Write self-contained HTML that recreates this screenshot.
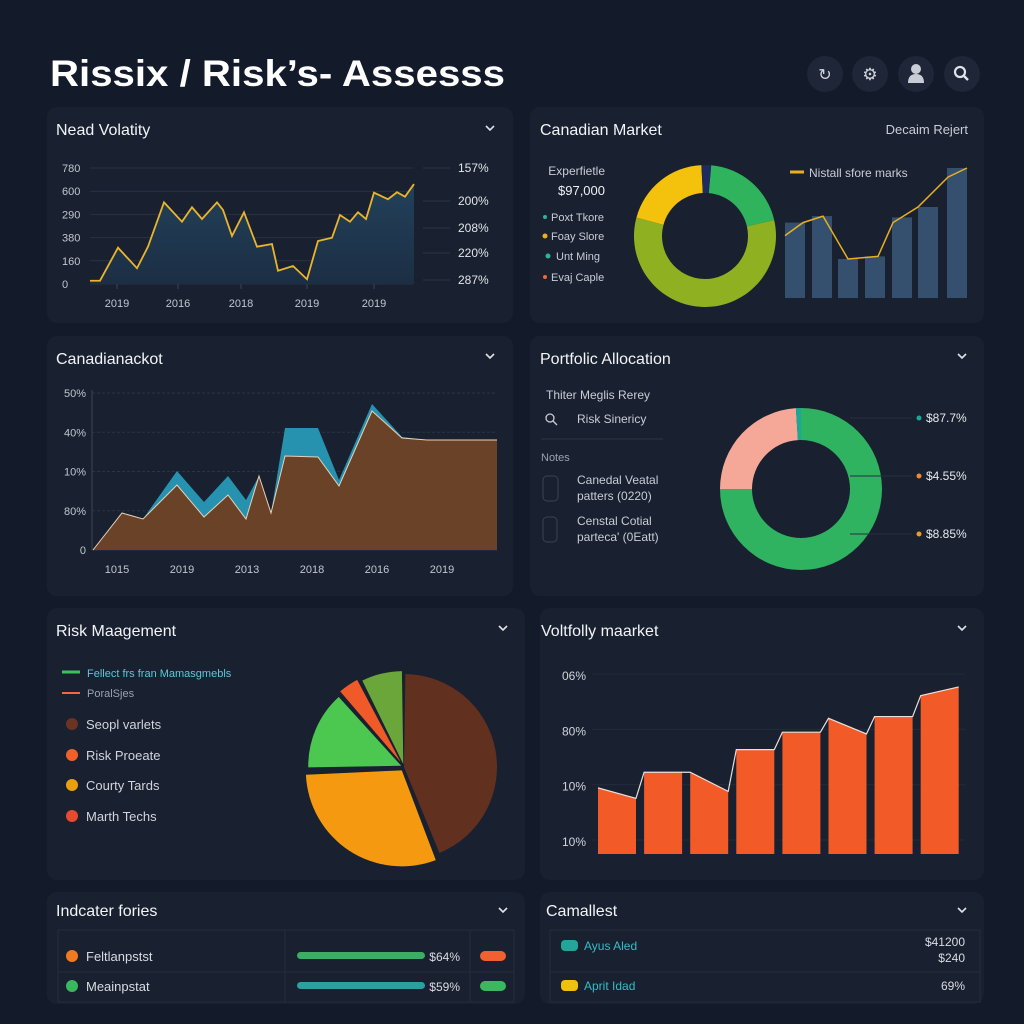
<!DOCTYPE html>
<html><head><meta charset="utf-8">
<style>
html,body{margin:0;padding:0;background:#131a2a;}
svg{display:block;font-family:"Liberation Sans",sans-serif;}
</style></head>
<body>
<svg id="root" width="1024" height="1024" viewBox="0 0 1024 1024" xmlns="http://www.w3.org/2000/svg">
<defs>
<linearGradient id="g1" x1="0" y1="0" x2="0" y2="1"><stop offset="0" stop-color="#22415a"/><stop offset="1" stop-color="#1c2e44"/></linearGradient>
</defs>
<rect x="0" y="0" width="1024" height="1024" fill="#131a2a"/>
<text x="50" y="86" font-size="37" font-weight="bold" fill="#ffffff" textLength="455" lengthAdjust="spacingAndGlyphs">Rissix / Risk’s- Assesss</text>
<g><circle cx="825" cy="74" r="18" fill="#1e2638"/><text x="825" y="80" font-size="16" fill="#d0d4dc" text-anchor="middle">↻</text></g>
<g><circle cx="870" cy="74" r="18" fill="#1e2638"/><text x="870" y="80" font-size="17" fill="#d0d4dc" text-anchor="middle">⚙</text></g>
<g><circle cx="916" cy="74" r="18" fill="#1e2638"/><circle cx="916" cy="69" r="5" fill="#c8ccd4"/><path d="M908 83 Q908 74 916 74 Q924 74 924 83Z" fill="#c8ccd4"/></g>
<g><circle cx="962" cy="74" r="18" fill="#1e2638"/><circle cx="960" cy="72" r="5" fill="none" stroke="#e0e3e8" stroke-width="2.2"/><line x1="964" y1="76" x2="968" y2="80" stroke="#e0e3e8" stroke-width="2.4"/></g>

<!-- panels -->
<g fill="#19202f">
<rect x="47" y="107" width="466" height="216" rx="10"/>
<rect x="530" y="107" width="454" height="216" rx="10"/>
<rect x="47" y="336" width="466" height="260" rx="10"/>
<rect x="530" y="336" width="454" height="260" rx="10"/>
<rect x="47" y="608" width="478" height="272" rx="10"/>
<rect x="540" y="608" width="444" height="272" rx="10"/>
<rect x="47" y="892" width="478" height="112" rx="10"/>
<rect x="540" y="892" width="444" height="112" rx="10"/>
</g>
<g fill="#f2f4f7" font-size="16">
<text x="56" y="135">Nead Volatity</text>
<text x="540" y="135">Canadian Market</text>
<text x="56" y="364">Canadianackot</text>
<text x="540" y="364">Portfolic Allocation</text>
<text x="56" y="636">Risk Maagement</text>
<text x="541" y="636">Voltfolly maarket</text>
<text x="56" y="916">Indcater fories</text>
<text x="546" y="916">Camallest</text>
</g>
<g fill="none" stroke="#e0e3e8" stroke-width="1.6">
<path d="M486 126 l4 4 l4 -4"/>
<path d="M486 354 l4 4 l4 -4"/>
<path d="M958 354 l4 4 l4 -4"/>
<path d="M499 626 l4 4 l4 -4"/>
<path d="M958 626 l4 4 l4 -4"/>
<path d="M499 908 l4 4 l4 -4"/>
<path d="M958 908 l4 4 l4 -4"/>
</g>
<text x="968" y="134" font-size="13" fill="#c8cdd6" text-anchor="end">Decaim Rejert</text>

<g id="c1"></g>
<g id="c2"></g>
<g id="c3"></g>
<g id="c4"></g>
<g id="c5"></g>
<g id="c6"></g>

<!-- canadian market left texts -->
<g font-size="12" fill="#c8cdd6">
<text x="605" y="175" text-anchor="end">Experfietle</text>
<text x="605" y="195" text-anchor="end" font-size="13" fill="#eef0f3">$97,000</text>
<g font-size="11"><circle cx="545" cy="217" r="2" fill="#2ab59a"/><text x="551" y="221">Poxt Tkore</text>
<circle cx="545" cy="236" r="2.5" fill="#e8b020"/><text x="551" y="240">Foay Slore</text>
<circle cx="548" cy="256" r="2.5" fill="#2ab59a"/><text x="556" y="260">Unt Ming</text>
<circle cx="545" cy="277" r="2" fill="#f06a30"/><text x="551" y="281">Evaj Caple</text></g>
<line x1="790" y1="172" x2="804" y2="172" stroke="#e8b020" stroke-width="3"/>
<text x="809" y="177">Nistall sfore marks</text>
</g>

<!-- portfolio left -->
<g font-size="12" fill="#c8cdd6">
<text x="546" y="399">Thiter Meglis Rerey</text>
<g><circle cx="550" cy="418" r="4" fill="none" stroke="#c8cdd6" stroke-width="1.3"/><line x1="553" y1="421" x2="557" y2="425" stroke="#c8cdd6" stroke-width="1.3"/>
<text x="577" y="423">Risk Sinericy</text></g>
<line x1="541" y1="439" x2="663" y2="439" stroke="#2b3447"/>
<text x="541" y="461" font-size="11" fill="#9aa2b0">Notes</text>
<rect x="543" y="476" width="15" height="25" rx="4" fill="none" stroke="#3a4356"/>
<text x="577" y="484">Canedal Veatal</text>
<text x="577" y="500">patters (0220)</text>
<rect x="543" y="517" width="14" height="25" rx="4" fill="none" stroke="#3a4356"/>
<text x="577" y="525">Censtal Cotial</text>
<text x="577" y="541">parteca' (0Eatt)</text>
</g>

<!-- risk legend -->
<g font-size="13" fill="#d0d4dc">
<line x1="62" y1="672" x2="80" y2="672" stroke="#3ec060" stroke-width="3"/>
<text x="87" y="677" font-size="11" fill="#5cc8d8">Fellect frs fran Mamasgmebls</text>
<line x1="62" y1="693" x2="80" y2="693" stroke="#f06a40" stroke-width="2"/>
<text x="87" y="697" font-size="11" fill="#9aa2b0">PoralSjes</text>
<circle cx="72" cy="724" r="6" fill="#6a3322"/><text x="86" y="729">Seopl varlets</text>
<circle cx="72" cy="755" r="6" fill="#f0602a"/><text x="86" y="760">Risk Proeate</text>
<circle cx="72" cy="785" r="6" fill="#e8a010"/><text x="86" y="790">Courty Tards</text>
<circle cx="72" cy="816" r="6" fill="#e84a30"/><text x="86" y="821">Marth Techs</text>
</g>

<!-- indicator table -->
<g>
<rect x="58" y="930" width="456" height="72" fill="none" stroke="#252d3e"/>
<line x1="285" y1="930" x2="285" y2="1002" stroke="#252d3e"/><line x1="470" y1="930" x2="470" y2="1002" stroke="#252d3e"/>
<line x1="58" y1="972" x2="514" y2="972" stroke="#252d3e"/>
<circle cx="72" cy="956" r="6" fill="#f07a20"/>
<text x="86" y="961" font-size="13" fill="#d8dce2">Feltlanpstst</text>
<rect x="297" y="952" width="128" height="7" rx="3.5" fill="#3aae64"/>
<text x="460" y="961" font-size="12" fill="#d8dce2" text-anchor="end">$64%</text>
<rect x="480" y="951" width="26" height="10" rx="5" fill="#f06030"/>
<circle cx="72" cy="986" r="6" fill="#3ab860"/>
<text x="86" y="991" font-size="13" fill="#d8dce2">Meainpstat</text>
<rect x="297" y="982" width="128" height="7" rx="3.5" fill="#2aa0a0"/>
<text x="460" y="991" font-size="12" fill="#d8dce2" text-anchor="end">$59%</text>
<rect x="480" y="981" width="26" height="10" rx="5" fill="#3ab860"/>
</g>
<g>
<rect x="550" y="930" width="430" height="72" fill="none" stroke="#252d3e"/>
<line x1="550" y1="972" x2="980" y2="972" stroke="#252d3e"/>
<rect x="561" y="940" width="17" height="11" rx="4" fill="#22a69a"/>
<text x="584" y="950" font-size="12" fill="#36bcc8">Ayus Aled</text>
<text x="965" y="946" font-size="12" fill="#d8dce2" text-anchor="end">$41200</text>
<text x="965" y="962" font-size="12" fill="#d8dce2" text-anchor="end">$240</text>
<rect x="561" y="980" width="17" height="11" rx="4" fill="#f0c010"/>
<text x="584" y="990" font-size="12" fill="#36bcc8">Aprit Idad</text>
<text x="965" y="990" font-size="12" fill="#d8dce2" text-anchor="end">69%</text>
</g>
</svg>
<script>
// ---- chart 1 data ----
const volT = [0,10,28,47,58,74,92,102,112,127,133,142,154,167,182,188,203,217,228,242,250,260,268,276,284,298,307,315,324];
const volV = [22,22,244,106,251,549,419,516,437,549,498,323,482,251,269,89,121,32,289,311,464,419,482,437,614,570,617,587,672];
const volYTicks = [0,160,380,290,600,780];
const volXLabels = ["2019","2016","2018","2019","2019"];
const volXLabelT = [27,88,151,217,284];
const volRightLabels = ["157%","200%","208%","220%","287%"];
// ---- chart 2 data ----
const mktDonut = [20,57.8,20,2.2];
const mktDonutColors = ["#2fb35c","#8fb020","#f4c20c","#1e2a60"];
const mktBars = [58,63,30,32,62,70,100];
const mktLine = [48,58,63,30,32,58,70,93,100];
// ---- chart 3 data ----
const areaT = [0,29,50,84,111,135,153,166,178,192,225,246,279,309,334,404];
const areaBrown = [0,37,31,65,33,55,31,74,37,94,93,64,139,112,110,110];
const areaTeal = [0,37,31,79,48,74,50,74,37,122,122,70,146,113,110,110];
const areaYLabels = ["0","80%","10%","40%","50%"];
const areaXLabels = ["1015","2019","2013","2018","2016","2019"];
// ---- chart 4 data ----
const allocVals = [75,24,1];
const allocColors = ["#2fb360","#f5a898","#1aa898"];
const allocLabels = ["$87.7%","$4.55%","$8.85%"];
// ---- chart 5 data ----
const riskVals = [44,30.5,14,4,7.5];
const riskColors = ["#62301f","#f59a10","#4cc850","#f05a28","#6aa63a"];
// ---- chart 6 data ----
const vbStart = [38,47,47,60,70,78,79,91];
const vbEnd = [32,47,36,60,70,69,79,96];
const vbYLabels = ["10%","10%","80%","06%"];

const NS="http://www.w3.org/2000/svg";
function mk(parent,tag,attrs){const e=document.createElementNS(NS,tag);for(const k in attrs)e.setAttribute(k,attrs[k]);parent.appendChild(e);return e;}
function arc(cx,cy,r0,r1,a0,a1){const p=(r,a)=>[cx+r*Math.sin(a),cy-r*Math.cos(a)];const L=a1-a0>Math.PI?1:0;
 const [x1,y1]=p(r1,a0),[x2,y2]=p(r1,a1);
 if(r0<=0){return `M${cx} ${cy}L${x1} ${y1}A${r1} ${r1} 0 ${L} 1 ${x2} ${y2}Z`;}
 const [x3,y3]=p(r0,a1),[x4,y4]=p(r0,a0);
 return `M${x1} ${y1}A${r1} ${r1} 0 ${L} 1 ${x2} ${y2}L${x3} ${y3}A${r0} ${r0} 0 ${L} 0 ${x4} ${y4}Z`;}

// chart 1
(function(){const g=document.getElementById('c1');
 const x=t=>90+t, y=v=>284-v*116/780;
 volYTicks.forEach((v,i)=>{const yy=284-i*23.2;
  const l=mk(g,'line',{x1:90,x2:413,y1:yy,y2:yy,stroke:'#283246','stroke-width':1});
  
  const t=mk(g,'text',{x:62,y:yy+4,'font-size':11,fill:'#c0c6d0'});t.textContent=v;
  });
 let d='M'+x(volT[0])+' 284';volT.forEach((t,i)=>d+='L'+x(t)+' '+y(volV[i]));d+='L'+x(volT[volT.length-1])+' 284Z';
 const a=mk(g,'path',{d,fill:'url(#g1)'});
 const ln=mk(g,'polyline',{points:volT.map((t,i)=>x(t)+','+y(volV[i])).join(' '),fill:'none',stroke:'#eab52c','stroke-width':1.8});
 
 volXLabels.forEach((s,i)=>{const t=mk(g,'text',{x:x(volXLabelT[i]),y:307,'font-size':11,fill:'#c0c6d0','text-anchor':'middle'});t.textContent=s;
  
  mk(g,'line',{x1:x(volXLabelT[i]),x2:x(volXLabelT[i]),y1:284,y2:289,stroke:'#3a4458'});});
 const ry=[172,205,232,257,284];
 volRightLabels.forEach((s,i)=>{mk(g,'line',{x1:423,x2:450,y1:ry[i]-4,y2:ry[i]-4,stroke:'#2c3548'});
  const t=mk(g,'text',{x:458,y:ry[i],'font-size':12,fill:'#e2e5ea'});t.textContent=s;
  });
})();

// chart 2
(function(){const g=document.getElementById('c2');
 const tot=mktDonut.reduce((a,b)=>a+b,0);let a=5/180*Math.PI;
 mktDonut.forEach((v,i)=>{const s=v/tot*2*Math.PI;const p=mk(g,'path',{d:arc(705,236,43,71,a,a+s),fill:mktDonutColors[i]});
  a+=s;});
 const y=v=>298-v*1.3;const bx=[785,812,838,865,892,918,947];
 mktBars.forEach((v,i)=>{const r=mk(g,'rect',{x:bx[i],y:y(v),width:20,height:298-y(v),fill:'#34506e'});
  });
 const lx=[785,803,823,848,878,893,918,948,967];
 const l=mk(g,'polyline',{points:mktLine.map((v,i)=>lx[i]+','+y(v)).join(' '),fill:'none',stroke:'#e8b020','stroke-width':1.5});
 
})();

// chart 3
(function(){const g=document.getElementById('c3');
 const x=t=>93+t, y=v=>550-v;
 areaYLabels.forEach((s,i)=>{const yy=550-i*39.25;
  mk(g,'line',{x1:92,x2:497,y1:yy,y2:yy,stroke:'#2a3447','stroke-dasharray':i?'3 2':'0'});
  const t=mk(g,'text',{x:86,y:yy+4,'font-size':11,fill:'#c0c6d0','text-anchor':'end'});t.textContent=s;
  });
 mk(g,'line',{x1:92,x2:92,y1:390,y2:550,stroke:'#3a4458'});
 const mkArea=(vals,fill,name)=>{let d='M'+x(areaT[0])+' 550';areaT.forEach((t,i)=>d+='L'+x(t)+' '+y(vals[i]));d+='L'+x(areaT[areaT.length-1])+' 550Z';
  const p=mk(g,'path',{d,fill});};
 mkArea(areaTeal,'#2692b0','area-teal-series');
 mkArea(areaBrown,'#6a4228','area-brown-series');
 const l=mk(g,'polyline',{points:areaT.map((t,i)=>x(t)+','+y(areaBrown[i])).join(' '),fill:'none',stroke:'#e6d2b8','stroke-width':1});
 
 areaXLabels.forEach((s,i)=>{const xx=117+i*65;const t=mk(g,'text',{x:xx,y:573,'font-size':11,fill:'#c0c6d0','text-anchor':'middle'});t.textContent=s;
  });
})();

// chart 4
(function(){const g=document.getElementById('c4');
 const tot=allocVals.reduce((a,b)=>a+b,0);let a=0;
 allocVals.forEach((v,i)=>{const s=v/tot*2*Math.PI;const p=mk(g,'path',{d:arc(801,489,49,81,a,a+s),fill:allocColors[i]});
  a+=s;});
 const ly=[421,479,537];const dc=['#1aa898','#f08a30','#f09a20'];
 allocLabels.forEach((s,i)=>{mk(g,'line',{x1:850,x2:912,y1:ly[i]-3,y2:ly[i]-3,stroke:'#262f42'});
  mk(g,'circle',{cx:919,cy:ly[i]-3,r:2.5,fill:dc[i]});
  const t=mk(g,'text',{x:926,y:ly[i]+1,'font-size':12,fill:'#e6e9ee'});t.textContent=s;
  });
})();

// chart 5
(function(){const g=document.getElementById('c5');
 const tot=riskVals.reduce((a,b)=>a+b,0);let a=0;const cx=404,cy=767;
 const ex=[0,4,3,6,3],rr=[93,96,93,93,93];
 riskVals.forEach((v,i)=>{const s=v/tot*2*Math.PI;const m=a+s/2;
  const ox=ex[i]*Math.sin(m),oy=-ex[i]*Math.cos(m);
  const p=mk(g,'path',{d:arc(cx+ox,cy+oy,0,rr[i],a+0.015,a+s-0.015),fill:riskColors[i]});
  a+=s;});
})();

// chart 6
(function(){const g=document.getElementById('c6');
 const y=v=>854-v*1.74;
 vbYLabels.forEach((s,i)=>{const yy=846-i*55.3;
  mk(g,'line',{x1:592,x2:965,y1:yy-6,y2:yy-6,stroke:'#222b3d'});
  const t=mk(g,'text',{x:586,y:yy,'font-size':12,fill:'#d0d4dc','text-anchor':'end'});t.textContent=s;
  });
 const x0=598,w=38,step=46.1;let pts=[];
 vbStart.forEach((v,i)=>{const xl=x0+i*step,xr=xl+w;
  const p=mk(g,'path',{d:`M${xl} 854L${xl} ${y(v)}L${xr} ${y(vbEnd[i])}L${xr} 854Z`,fill:'#f25a28'});
  
  pts.push(xl+','+y(v),xr+','+y(vbEnd[i]));});
 const l=mk(g,'polyline',{points:pts.join(' '),fill:'none',stroke:'#e8e0dc','stroke-width':1.2});
 
})();
</script>
</body></html>
